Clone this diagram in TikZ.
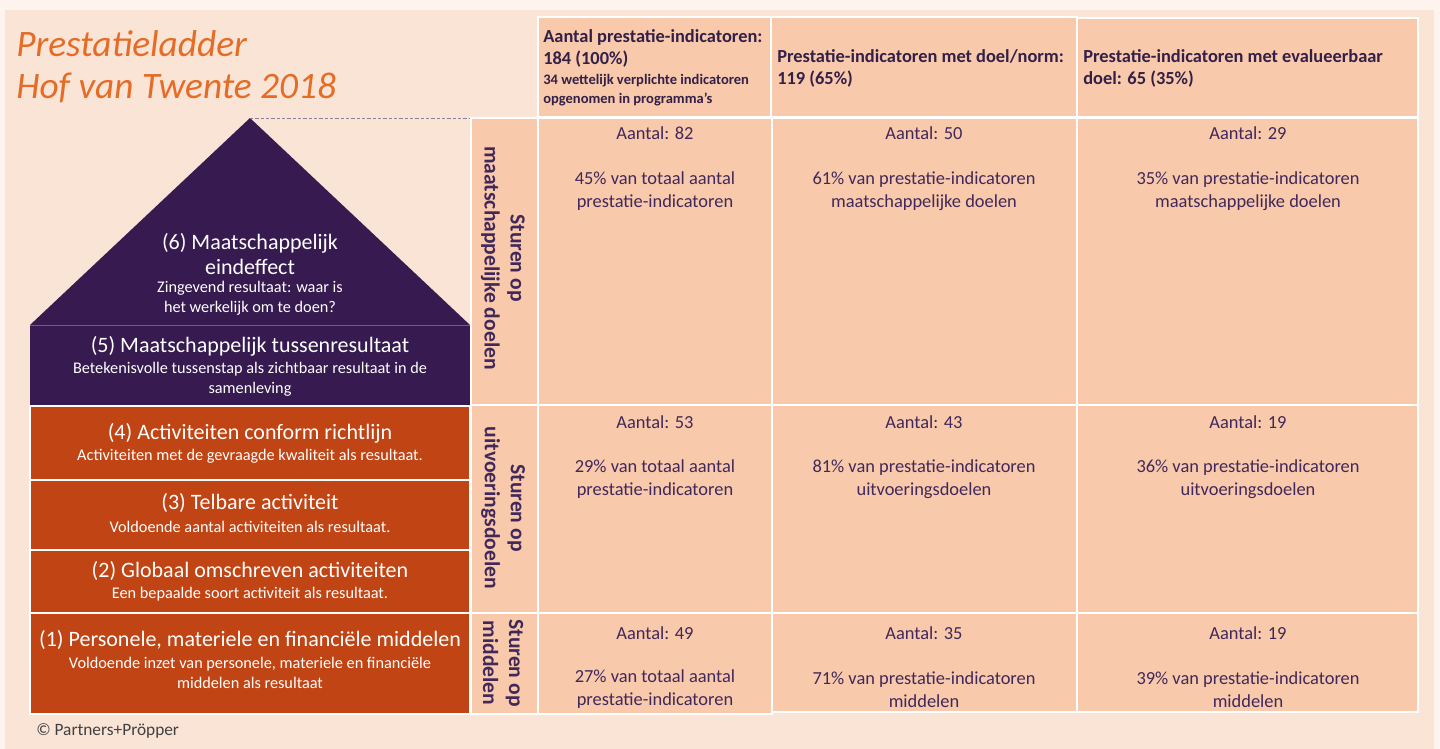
\documentclass[tikz,border=0pt]{standalone}
\usepackage{fontspec}
\setmainfont{Carlito}
\usetikzlibrary{positioning}
\definecolor{pagebg}{RGB}{253,244,238}
\definecolor{panelbg}{RGB}{250,228,214}
\definecolor{cellbg}{RGB}{248,201,171}
\definecolor{roofpurple}{RGB}{54,26,80}
\definecolor{rungorange}{RGB}{193,68,20}
\definecolor{titleorange}{RGB}{228,108,38}
\definecolor{inkpurple}{RGB}{64,40,90}
\definecolor{seamblue}{RGB}{70,110,150}
\tikzset{
    cellbox/.style = {fill=cellbg, draw=white, line width=1.2pt},
    rungbox/.style = {fill=rungorange, draw=white, line width=1.2pt},
    celltext/.style = {text=inkpurple, align=center, inner sep=0pt, font=\fontsize{13.8}{17.25}\selectfont},
    headtext/.style = {text=inkpurple!80!black, align=left, anchor=west, inner sep=0pt, font=\bfseries\fontsize{13.8}{16.5}\selectfont},
    sidetext/.style = {text=inkpurple, align=center, rotate=-90, inner sep=0pt, font=\bfseries\fontsize{16.2}{19.5}\selectfont},
    rungtitle/.style = {text=white, align=center, inner sep=0pt, font=\fontsize{16.5}{18.75}\selectfont},
    rungsub/.style = {text=white, align=center, inner sep=0pt, font=\fontsize{12.2}{15}\selectfont}
}
\begin{document}
\begin{tikzpicture}[x=0.75pt, y=-0.75pt]
    \useasboundingbox (0,0) rectangle (1440,749);
    \fill[pagebg] (0,0) rectangle (1440,749);
    \fill[panelbg] (5,10) rectangle (1434,749);
    % table
    \path[cellbox] (538,17) rectangle (771,117);
    \path[cellbox] (771,17) rectangle (1077,117);
    \path[cellbox] (1077,18) rectangle (1418,117);
    \path[cellbox] (471,118) rectangle (538,405);
    \path[cellbox] (538,118) rectangle (772,405);
    \path[cellbox] (772,118) rectangle (1077,405);
    \path[cellbox] (1077,118) rectangle (1418,405);
    \path[cellbox] (471,405) rectangle (538,613);
    \path[cellbox] (538,405) rectangle (772,613);
    \path[cellbox] (772,405) rectangle (1077,613);
    \path[cellbox] (1077,405) rectangle (1418,613);
    \path[cellbox] (471,613) rectangle (538,714);
    \path[cellbox] (538,613) rectangle (772,714);
    \path[cellbox] (772,613) rectangle (1077,712);
    \path[cellbox] (1077,613) rectangle (1418,712);
    % ladder
    \fill[roofpurple] (250,118) -- (470,325) -- (30,325) -- cycle;
    \fill[roofpurple] (30,325) rectangle (470,405);
    \draw[seamblue, line width=0.6pt] (30,325) -- (470,325);
    \draw[inkpurple!60, line width=0.6pt, dash pattern=on 2.5pt off 1.5pt] (250,118) -- (470,118);
    \path[rungbox] (30,406) rectangle (470,480);
    \path[rungbox] (30,480) rectangle (470,550);
    \path[rungbox] (30,550) rectangle (470,613);
    \path[rungbox] (30,613) rectangle (470,714);

    \node[anchor=west, align=left, inner sep=0pt, text=titleorange, font=\itshape\fontsize{28}{31.5}\selectfont] (title) at (16,67) {Prestatieladder\\Hof van Twente 2018};
    \node[anchor=west, inner sep=0pt, text=black!75, font=\fontsize{13}{15}\selectfont] (copy) at (36,731) {© Partners+Pröpper};

    \node[headtext] (h1) at (543,68) {Aantal prestatie-indicatoren:\\184 (100\%)\\[-1.5pt]{\fontsize{10.9}{12}\selectfont 34 wettelijk verplichte indicatoren}\\[-2.25pt]{\fontsize{10.9}{12}\selectfont opgenomen in programma’s}};
    \node[headtext] (h2) at (777,68) {Prestatie-indicatoren met doel/norm:\\119 (65\%)};
    \node[headtext] (h3) at (1083,68) {Prestatie-indicatoren met evalueerbaar\\doel: 65 (35\%)};

    \node[sidetext] (s1) at (503,258) {Sturen op\\maatschappelijke doelen};
    \node[sidetext] (s2) at (503,508) {Sturen op\\uitvoeringsdoelen};
    \node[sidetext] (s3) at (503,663) {Sturen op\\middelen};

    \node[rungtitle] (t6) at (250,254) {(6) Maatschappelijk\\eindeffect};
    \node[rungsub] (u6) at (250,298) {Zingevend resultaat: waar is\\het werkelijk om te doen?};
    \node[rungtitle] (t5) at (250,346) {(5) Maatschappelijk tussenresultaat};
    \node[rungsub] (u5) at (250,379) {Betekenisvolle tussenstap als zichtbaar resultaat in de\\samenleving};
    \node[rungtitle] (t4) at (250,433) {(4) Activiteiten conform richtlijn};
    \node[rungsub] (u4) at (250,456) {Activiteiten met de gevraagde kwaliteit als resultaat.};
    \node[rungtitle] (t3) at (250,503) {(3) Telbare activiteit};
    \node[rungsub] (u3) at (250,527) {Voldoende aantal activiteiten als resultaat.};
    \node[rungtitle] (t2) at (250,571) {(2) Globaal omschreven activiteiten};
    \node[rungsub] (u2) at (250,594) {Een bepaalde soort activiteit als resultaat.};
    \node[rungtitle] (t1) at (250,640) {(1) Personele, materiele en financiële middelen};
    \node[rungsub] (u1) at (250,673) {Voldoende inzet van personele, materiele en financiële\\middelen als resultaat};

    \node[celltext, anchor=base] (a11) at (655,140) {Aantal: 82};
    \node[celltext] (p11) at (655,191.5) {45\% van totaal aantal\\prestatie-indicatoren};
    \node[celltext, anchor=base] (a12) at (924,140) {Aantal: 50};
    \node[celltext] (p12) at (924,191.5) {61\% van prestatie-indicatoren\\maatschappelijke doelen};
    \node[celltext, anchor=base] (a13) at (1248,140) {Aantal: 29};
    \node[celltext] (p13) at (1248,191.5) {35\% van prestatie-indicatoren\\maatschappelijke doelen};
    \node[celltext, anchor=base] (a21) at (655,428) {Aantal: 53};
    \node[celltext] (p21) at (655,479.5) {29\% van totaal aantal\\prestatie-indicatoren};
    \node[celltext, anchor=base] (a22) at (924,428) {Aantal: 43};
    \node[celltext] (p22) at (924,479.5) {81\% van prestatie-indicatoren\\uitvoeringsdoelen};
    \node[celltext, anchor=base] (a23) at (1248,428) {Aantal: 19};
    \node[celltext] (p23) at (1248,479.5) {36\% van prestatie-indicatoren\\uitvoeringsdoelen};
    \node[celltext, anchor=base] (a31) at (655,639) {Aantal: 49};
    \node[celltext] (p31) at (655,689.5) {27\% van totaal aantal\\prestatie-indicatoren};
    \node[celltext, anchor=base] (a32) at (924,639) {Aantal: 35};
    \node[celltext] (p32) at (924,689.5) {71\% van prestatie-indicatoren\\middelen};
    \node[celltext, anchor=base] (a33) at (1248,639) {Aantal: 19};
    \node[celltext] (p33) at (1248,689.5) {39\% van prestatie-indicatoren\\middelen};
\end{tikzpicture}
\end{document}
